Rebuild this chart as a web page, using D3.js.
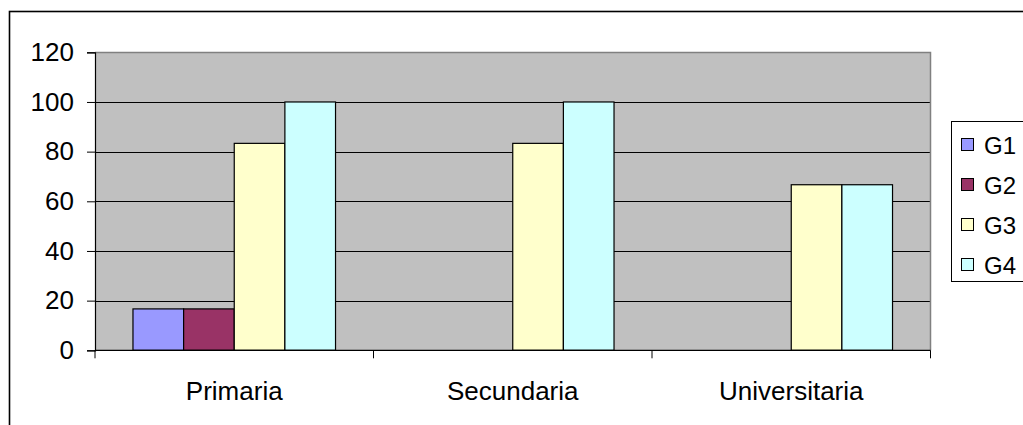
<!DOCTYPE html>
<html>
<head>
<meta charset="utf-8">
<script src="https://cdn.jsdelivr.net/npm/d3@7"></script>
<style>
  html, body { margin: 0; padding: 0; background: #fff; }
  svg { display: block; }
  text { font-family: "Liberation Sans", Arial, sans-serif; fill: #000; }
</style>
</head>
<body>
<svg id="chart" width="1023" height="425"></svg>
<script>
const categories = ["Primaria", "Secundaria", "Universitaria"];
const series = ["G1", "G2", "G3", "G4"];
const colors = ["#9999FF", "#993366", "#FFFFCC", "#CCFFFF"];
const valuesG1 = [16.67, 0, 0];
const valuesG2 = [16.67, 0, 0];
const valuesG3 = [83.33, 83.33, 66.67];
const valuesG4 = [100, 100, 66.67];
const yTicks = [0, 20, 40, 60, 80, 100, 120];

const seriesValues = [valuesG1, valuesG2, valuesG3, valuesG4];

const svg = d3.select("#chart");

// outer chart frame (extends beyond view at right/bottom)
svg.append("rect")
  .attr("x", 9.5).attr("y", 11.5)
  .attr("width", 1100).attr("height", 500)
  .attr("fill", "#fff").attr("stroke", "#000").attr("stroke-width", 1.6);

const plot = { left: 95, right: 930.5, top: 52.3, bottom: 350.3 };

const x0 = d3.scaleBand().domain(categories)
  .range([plot.left, plot.right]).paddingInner(0).paddingOuter(0);
const x1 = d3.scaleBand().domain(series)
  .range([0, x0.bandwidth()]).paddingInner(0).paddingOuter(0.75);
const y = d3.scaleLinear().domain([0, 120]).range([plot.bottom, plot.top]);

// plot area background
svg.append("rect")
  .attr("x", plot.left).attr("y", plot.top)
  .attr("width", plot.right - plot.left).attr("height", plot.bottom - plot.top)
  .attr("fill", "#C0C0C0");

// gridlines
svg.append("g").selectAll("line")
  .data(yTicks.filter(t => t > 0 && t < 120))
  .join("line")
  .attr("x1", plot.left).attr("x2", plot.right)
  .attr("y1", d => Math.round(y(d)) + 0.5).attr("y2", d => Math.round(y(d)) + 0.5)
  .attr("stroke", "#000").attr("stroke-width", 1);

// plot border (top/right gray)
svg.append("path")
  .attr("d", `M${plot.left},${Math.round(plot.top)+0.5}H${plot.right}V${plot.bottom}`)
  .attr("fill", "none").attr("stroke", "#808080").attr("stroke-width", 1.5);

// bars
const barData = [];
categories.forEach((c, ci) => {
  series.forEach((s, si) => {
    barData.push({ cat: c, ser: s, val: seriesValues[si][ci], color: colors[si] });
  });
});
svg.append("g").selectAll("rect")
  .data(barData.filter(d => d.val > 0))
  .join("rect")
  .attr("x", d => x0(d.cat) + x1(d.ser))
  .attr("y", d => y(d.val))
  .attr("width", x1.bandwidth())
  .attr("height", d => y(0) - y(d.val))
  .attr("fill", d => d.color)
  .attr("stroke", "#000").attr("stroke-width", 1.2);

// y axis
const yAxis = d3.axisLeft(y).tickValues(yTicks).tickSize(8).tickPadding(13)
  .tickFormat(d3.format("d"));
const gy = svg.append("g").attr("transform", `translate(${plot.left},0)`).call(yAxis);
gy.select(".domain").attr("stroke", "#000").attr("stroke-width", 1.2);
gy.selectAll(".tick line").attr("stroke", "#000");
gy.selectAll(".tick text")
  .attr("font-size", 26).attr("font-family", "Liberation Sans, Arial, sans-serif");

// x axis
const gx = svg.append("g").attr("transform", `translate(0,${plot.bottom})`);
gx.append("line")
  .attr("x1", plot.left).attr("x2", plot.right)
  .attr("stroke", "#000").attr("stroke-width", 1.2);
const boundaries = categories.map(c => x0(c)).concat([plot.right]);
gx.selectAll(".xt").data(boundaries).join("line")
  .attr("class", "xt")
  .attr("x1", d => d).attr("x2", d => d)
  .attr("y1", 0).attr("y2", 8)
  .attr("stroke", "#000");
gx.selectAll(".xl").data(categories).join("text")
  .attr("class", "xl")
  .attr("x", d => x0(d) + x0.bandwidth() / 2)
  .attr("y", 50)
  .attr("text-anchor", "middle")
  .attr("font-size", 26)
  .text(d => d);

// legend
const leg = svg.append("g");
leg.append("rect")
  .attr("x", 951.5).attr("y", 121.5)
  .attr("width", 100).attr("height", 160)
  .attr("fill", "#fff").attr("stroke", "#000").attr("stroke-width", 1);
const legY = d3.scalePoint().domain(series).range([145, 265]);
series.forEach((s, i) => {
  leg.append("rect")
    .attr("x", 961.5).attr("y", legY(s) - 6.5)
    .attr("width", 12).attr("height", 12)
    .attr("fill", colors[i]).attr("stroke", "#000").attr("stroke-width", 1);
  leg.append("text")
    .attr("x", 984).attr("y", legY(s))
    .attr("dy", "0.36em")
    .attr("font-size", 24)
    .text(s);
});
</script>
</body>
</html>
